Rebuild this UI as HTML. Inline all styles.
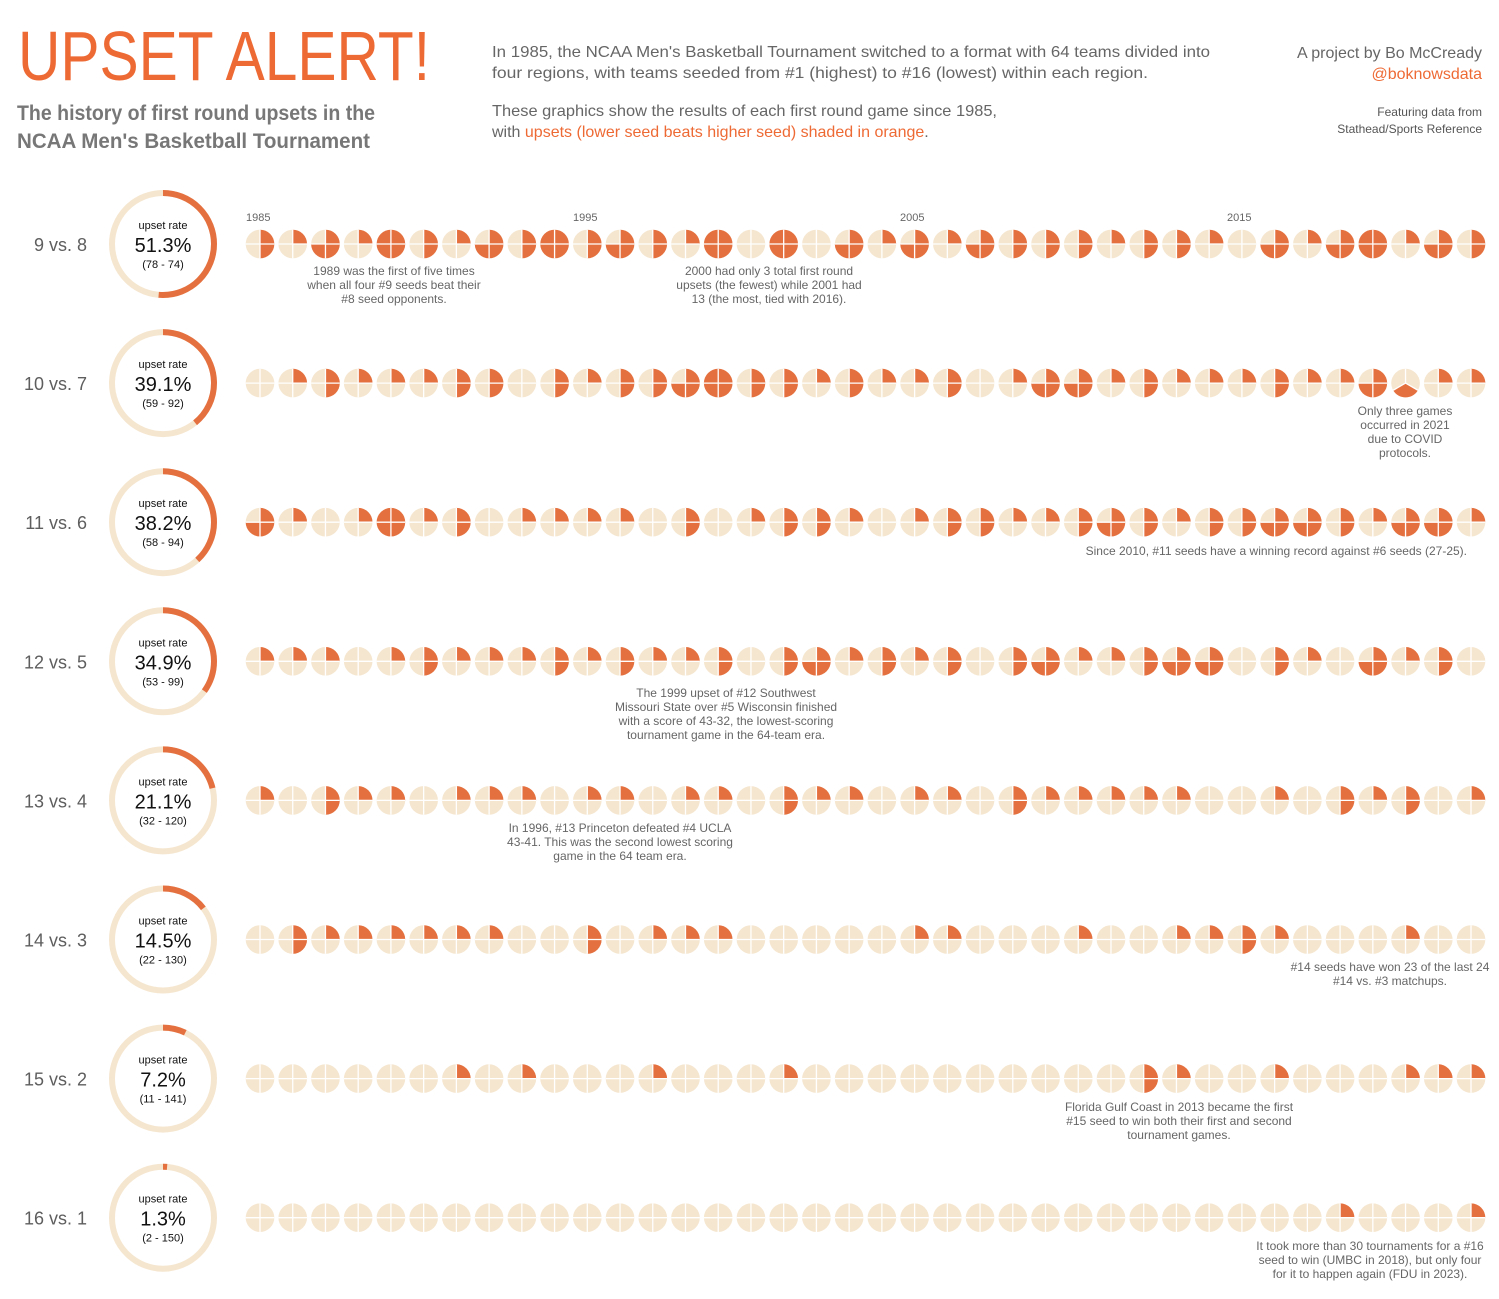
<!DOCTYPE html>
<html><head><meta charset="utf-8"><style>
html,body{margin:0;padding:0;background:#fff;}
svg{display:block;font-family:"Liberation Sans",sans-serif;}
</style></head><body>
<svg id="s" width="1499" height="1299" viewBox="0 0 1499 1299" xmlns="http://www.w3.org/2000/svg">
<text x="18" y="80" font-size="70" fill="#ee6a35" textLength="412" lengthAdjust="spacingAndGlyphs">UPSET ALERT!</text>
<text x="17" y="120" font-size="21" fill="#777" font-weight="bold" textLength="358" lengthAdjust="spacingAndGlyphs">The history of first round upsets in the</text>
<text x="17" y="148" font-size="21" fill="#777" font-weight="bold" textLength="353" lengthAdjust="spacingAndGlyphs">NCAA Men's Basketball Tournament</text>
<g font-size="16" fill="#666">
<text x="492" y="57" textLength="718" lengthAdjust="spacingAndGlyphs">In 1985, the NCAA Men's Basketball Tournament switched to a format with 64 teams divided into</text>
<text x="492" y="78" textLength="656" lengthAdjust="spacingAndGlyphs">four regions, with teams seeded from #1 (highest) to #16 (lowest) within each region.</text>
<text x="492" y="116" textLength="505" lengthAdjust="spacingAndGlyphs">These graphics show the results of each first round game since 1985,</text>
<text x="492" y="137">with <tspan fill="#ee6a35">upsets (lower seed beats higher seed) shaded in orange</tspan>.</text>
<text x="1482" y="58" text-anchor="end">A project by Bo McCready</text>
<text x="1482" y="79" text-anchor="end" fill="#ee6a35">@boknowsdata</text>
</g>
<text x="1482" y="116" text-anchor="end" font-size="12" fill="#555">Featuring data from</text>
<text x="1482" y="133" text-anchor="end" font-size="12" fill="#555">Stathead/Sports Reference</text>
<g font-size="11" fill="#666">
<text x="246" y="221">1985</text><text x="573" y="221">1995</text><text x="900" y="221">2005</text><text x="1227" y="221">2015</text>
</g>
<g id="rows"></g>
<g font-size="12" fill="#666" text-anchor="middle">
<text x="394" y="275">1989 was the first of five times</text>
<text x="394" y="289">when all four #9 seeds beat their</text>
<text x="394" y="303">#8 seed opponents.</text>
<text x="769" y="275">2000 had only 3 total first round</text>
<text x="769" y="289">upsets (the fewest) while 2001 had</text>
<text x="769" y="303">13 (the most, tied with 2016).</text>
<text x="1405" y="415">Only three games</text>
<text x="1405" y="429">occurred in 2021</text>
<text x="1405" y="443">due to COVID</text>
<text x="1405" y="457">protocols.</text>
<text x="1467" y="555" text-anchor="end">Since 2010, #11 seeds have a winning record against #6 seeds (27-25).</text>
<text x="726" y="697">The 1999 upset of #12 Southwest</text>
<text x="726" y="711">Missouri State over #5 Wisconsin finished</text>
<text x="726" y="725">with a score of 43-32, the lowest-scoring</text>
<text x="726" y="739">tournament game in the 64-team era.</text>
<text x="620" y="832">In 1996, #13 Princeton defeated #4 UCLA</text>
<text x="620" y="846">43-41. This was the second lowest scoring</text>
<text x="620" y="860">game in the 64 team era.</text>
<text x="1390" y="971">#14 seeds have won 23 of the last 24</text>
<text x="1390" y="985">#14 vs. #3 matchups.</text>
<text x="1179" y="1111">Florida Gulf Coast in 2013 became the first</text>
<text x="1179" y="1125">#15 seed to win both their first and second</text>
<text x="1179" y="1139">tournament games.</text>
<text x="1370" y="1250">It took more than 30 tournaments for a #16</text>
<text x="1370" y="1264">seed to win (UMBC in 2018), but only four</text>
<text x="1370" y="1278">for it to happen again (FDU in 2023).</text>
</g>
</svg>
<script>
var data=[
[2,1,3,1,4,2,1,3,2,4,2,3,2,1,4,0,4,0,3,1,3,1,3,2,2,2,1,2,2,1,0,3,1,3,4,1,3,2],
[0,1,2,1,1,1,2,2,0,2,1,2,2,3,4,2,2,1,2,1,1,2,0,1,3,3,1,2,1,1,1,2,1,1,3,-1,1,1],
[3,1,0,1,4,1,2,0,1,1,1,1,0,2,0,1,2,2,1,0,1,2,2,1,1,2,3,2,1,2,2,3,3,2,1,3,3,1],
[1,1,1,0,1,2,1,1,1,2,1,2,1,1,2,0,2,3,1,2,1,2,0,2,3,1,1,2,3,3,0,2,1,0,3,1,2,0],
[1,0,2,1,1,0,1,1,1,0,1,1,0,1,1,0,2,1,1,0,1,1,0,2,1,1,1,1,1,0,0,1,0,2,1,2,0,1],
[0,2,1,1,1,1,1,1,0,0,2,0,1,1,1,0,0,0,0,0,1,1,0,0,0,1,0,0,1,1,2,1,0,0,0,1,0,0],
[0,0,0,0,0,0,1,0,1,0,0,0,1,0,0,0,1,0,0,0,0,0,0,0,0,0,0,2,1,0,0,1,0,0,0,1,1,1],
[0,0,0,0,0,0,0,0,0,0,0,0,0,0,0,0,0,0,0,0,0,0,0,0,0,0,0,0,0,0,0,0,0,1,0,0,0,1]];
var labels=["9 vs. 8","10 vs. 7","11 vs. 6","12 vs. 5","13 vs. 4","14 vs. 3","15 vs. 2","16 vs. 1"];
var rates=["51.3%","39.1%","38.2%","34.9%","21.1%","14.5%","7.2%","1.3%"];
var rec=["(78 - 74)","(59 - 92)","(58 - 94)","(53 - 99)","(32 - 120)","(22 - 130)","(11 - 141)","(2 - 150)"];
var frac=[.513,.391,.382,.349,.211,.145,.072,.013];
var O="#e5703f",B="#f5e6cf";
var h="";
function pt(cx,cy,r,a){a=a*Math.PI/180;return (cx+r*Math.cos(a)).toFixed(2)+" "+(cy+r*Math.sin(a)).toFixed(2);}
function wedge(cx,cy,r,a0,a1){return '<path d="M'+cx+' '+cy+' L'+pt(cx,cy,r,a0)+' A'+r+' '+r+' 0 0 1 '+pt(cx,cy,r,a1)+' Z" fill="'+O+'"/>';}
for(var i=0;i<8;i++){
 var cy=244+139.1*i;
 h+='<text x="87" y="'+(cy+7)+'" text-anchor="end" font-size="18" fill="#5e5e5e">'+labels[i]+'</text>';
 var R=51,C=2*Math.PI*R;
 h+='<circle cx="163" cy="'+cy+'" r="'+R+'" fill="none" stroke="'+B+'" stroke-width="6"/>';
 h+='<circle cx="163" cy="'+cy+'" r="'+R+'" fill="none" stroke="'+O+'" stroke-width="6" stroke-dasharray="'+(C*frac[i])+' '+C+'" transform="rotate(-90 163 '+cy+')"/>';
 h+='<text x="163" y="'+(cy-15)+'" text-anchor="middle" font-size="11" fill="#111">upset rate</text>';
 h+='<text x="163" y="'+(cy+8)+'" text-anchor="middle" font-size="20" fill="#111">'+rates[i]+'</text>';
 h+='<text x="163" y="'+(cy+24)+'" text-anchor="middle" font-size="11" fill="#111">'+rec[i]+'</text>';
 for(var j=0;j<38;j++){
  var cx=260+32.73*j,r=14.3,n=data[i][j];
  h+='<circle cx="'+cx+'" cy="'+cy+'" r="'+r+'" fill="'+B+'"/>';
  if(n<0){
   h+=wedge(cx,cy,r,30,150);
   [-90,30,150].forEach(function(a){h+='<line x1="'+cx+'" y1="'+cy+'" x2="'+pt(cx,cy,r,a).split(" ")[0]+'" y2="'+pt(cx,cy,r,a).split(" ")[1]+'" stroke="#fff" stroke-width="1.3"/>';});
  } else {
   for(var k=0;k<n;k++)h+=wedge(cx,cy,r,-90+90*k,90*k);
   h+='<line x1="'+(cx-r)+'" y1="'+cy+'" x2="'+(cx+r)+'" y2="'+cy+'" stroke="#fff" stroke-width="1.3"/>';
   h+='<line x1="'+cx+'" y1="'+(cy-r)+'" x2="'+cx+'" y2="'+(cy+r)+'" stroke="#fff" stroke-width="1.3"/>';
  }
 }
}
document.getElementById("rows").innerHTML=h;
</script>
</body></html>
